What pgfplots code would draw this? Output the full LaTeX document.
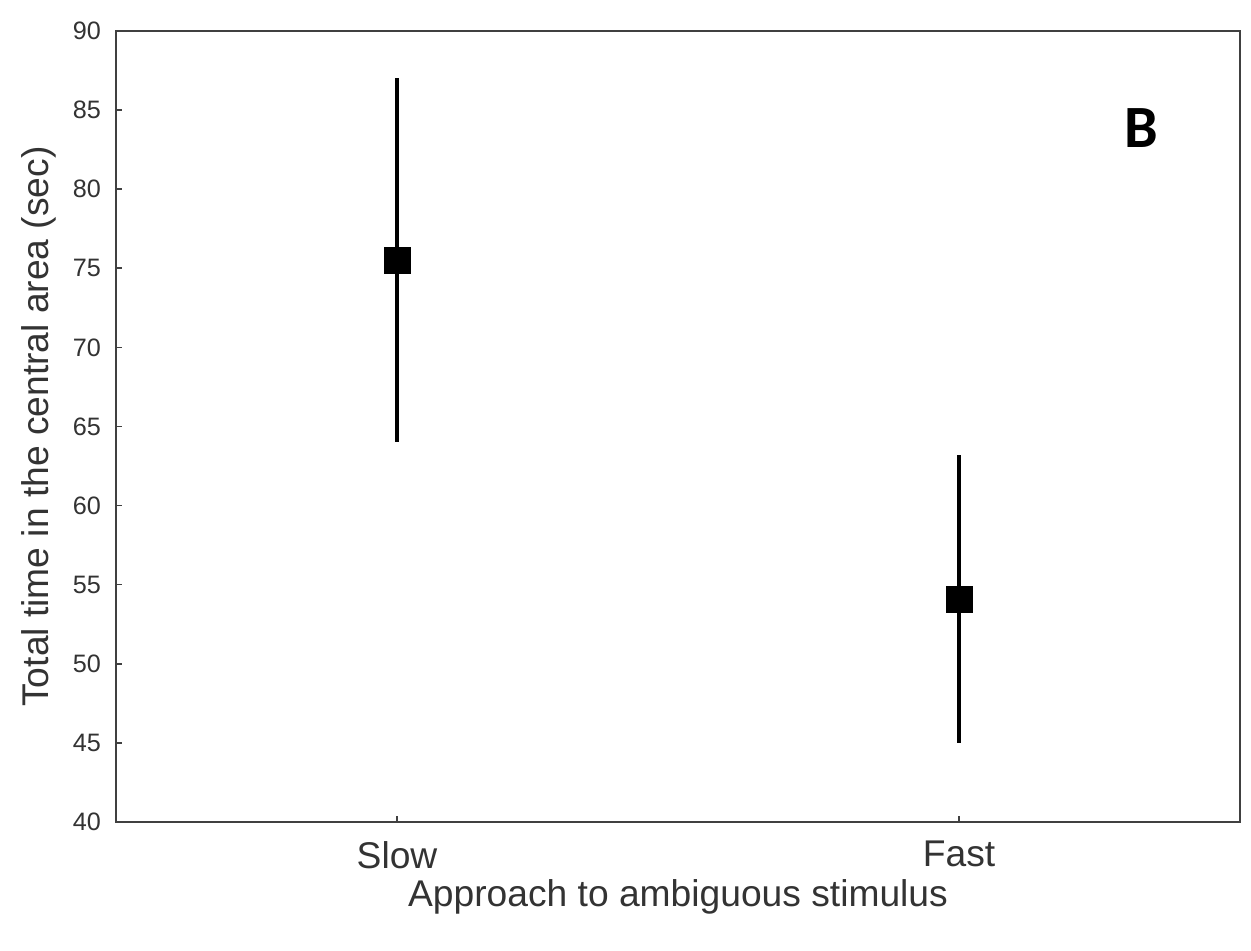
\documentclass[border=0pt]{standalone}
\usepackage{fontspec}
\setmainfont{Liberation Sans}
\newfontfamily\bfont{Carlito}
\usepackage{pgfplots}
\pgfplotsset{compat=1.18}
\definecolor{axgray}{HTML}{404040}
\definecolor{txtgray}{HTML}{333333}
\begin{document}
\begin{tikzpicture}
\begin{axis}[
  name=ax,
  scale only axis,
  width=562pt, height=395.5pt,
  xmin=-0.5, xmax=1.5,
  ymin=40, ymax=90,
  xtick={0,1}, xticklabels={Slow,Fast},
  ytick={40,45,...,90},
  tick align=inside,
  xtick pos=bottom, ytick pos=left,
  major tick length=3pt,
  axis line style={axgray, line width=1.2pt},
  tick style={axgray, line width=0.8pt},
  /pgf/number format/assume math mode=true,
  yticklabel style={font=\fontsize{12.6}{14}\selectfont, text=txtgray, xshift=-4pt},
  xticklabel style={font=\fontsize{18.6}{20}\selectfont, text=txtgray, yshift=-6pt},
  xlabel={Approach to ambiguous stimulus},
  ylabel={Total time in the central area (sec)},
  label style={font=\fontsize{18.6}{20}\selectfont, text=txtgray},
  xlabel style={yshift=1.5pt},
  ylabel style={yshift=1.5pt},
  clip=false,
]
\addplot[only marks, black, mark=square*, mark size=6.5pt,
  mark options={solid, fill=black},
  error bars/.cd, y dir=both, y explicit, error mark=none,
  error bar style={line width=2pt, black}]
  coordinates {
    (0,75.5) +- (0,11.5)
    (1,54.1) +- (0,9.1)
  };
\node[font=\bfont\bfseries\fontsize{30}{32}\selectfont] at (axis cs:1.324,83.87) {B};
\end{axis}
\pgfresetboundingbox
\path[use as bounding box] ([xshift=-58pt,yshift=-64.5pt]ax.south west) rectangle ([xshift=5.5pt,yshift=15.5pt]ax.north east);
\end{tikzpicture}
\end{document}
